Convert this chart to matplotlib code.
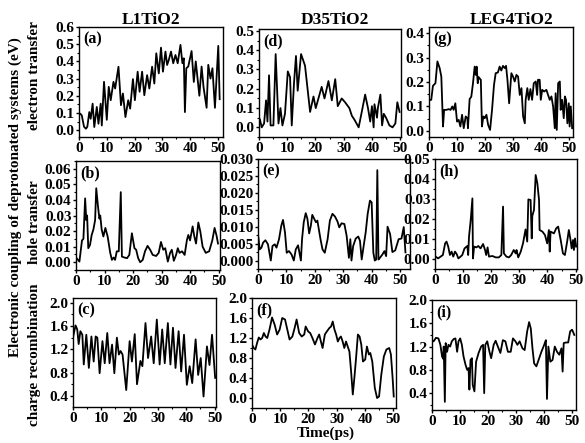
import matplotlib
matplotlib.use("Agg")
import matplotlib.pyplot as plt
from matplotlib.ticker import MultipleLocator, FormatStrFormatter

plt.rcParams['font.family'] = 'serif'
plt.rcParams['font.serif'] = ['Liberation Serif', 'DejaVu Serif']
plt.rcParams['font.weight'] = 'bold'

# ---- data: (time in ps, coupling in eV) ----
# electron transfer
a_pts = [(0.0, 0.09), (0.4, 0.096), (1.0, 0.086), (1.8, 0.02), (2.5, 0.008), (3.0, 0.02), (3.7, 0.105),
         (4.2, 0.066), (4.9, 0.154), (5.5, 0.018), (6.4, 0.135), (7.0, 0.037), (7.8, 0.154), (8.2, 0.027),
         (9.0, 0.281), (10.0, 0.06), (10.7, 0.252), (11.4, 0.174), (12.4, 0.281), (13.0, 0.242), (14.2, 0.369),
         (15.1, 0.145), (15.8, 0.213), (16.7, 0.076), (17.7, 0.174), (18.4, 0.125), (19.4, 0.297), (20.1, 0.174),
         (21.1, 0.34), (21.8, 0.223), (22.7, 0.34), (23.5, 0.203), (24.5, 0.32), (25.3, 0.242), (26.3, 0.369),
         (27.1, 0.271), (27.8, 0.447), (28.7, 0.33), (29.5, 0.48), (30.2, 0.34), (31.1, 0.457), (31.7, 0.379),
         (32.3, 0.408), (33.1, 0.457), (33.9, 0.389), (34.7, 0.437), (35.5, 0.389), (36.5, 0.496), (37.2, 0.389),
         (37.7, 0.418), (38.1, 0.105), (38.6, 0.36), (39.3, 0.37), (40.5, 0.46), (41.3, 0.28), (42.0, 0.40),
         (43.3, 0.20), (44.1, 0.37), (44.8, 0.25), (45.9, 0.13), (46.5, 0.38), (47.3, 0.30), (48.0, 0.36),
         (48.9, 0.13), (50.1, 0.49), (50.6, 0.18)]
d_pts = [(0.0, 0.05), (0.35, 0.04), (0.95, 0.0), (1.8, 0.02), (2.5, 0.14), (3.0, 0.03), (3.55, 0.27),
         (4.1, 0.01), (5.1, 0.01), (5.9, 0.38), (6.9, 0.02), (7.6, 0.10), (8.3, 0.01), (9.2, 0.07), (10.2, 0.29),
         (11.0, 0.26), (11.6, 0.01), (12.4, 0.23), (13.1, 0.37), (13.7, 0.19), (14.9, 0.38), (16.3, 0.32),
         (18.1, 0.08), (19.3, 0.16), (20.1, 0.10), (22.2, 0.21), (23.2, 0.15), (24.6, 0.24), (25.8, 0.14),
         (27.0, 0.25), (27.9, 0.11), (29.3, 0.15), (30.5, 0.13), (32.0, 0.10), (32.9, 0.06), (33.8, 0.04),
         (35.3, 0.0), (36.4, 0.08), (37.6, 0.17), (38.6, 0.10), (39.4, 0.03), (40.0, 0.11), (40.6, 0.0),
         (40.9, 0.12), (41.8, 0.05), (42.1, 0.10), (43.0, 0.17), (43.6, 0.01), (44.2, 0.07), (45.0, 0.05),
         (46.2, 0.01), (47.3, 0.0), (48.3, 0.02), (49.0, 0.13), (49.8, 0.08)]
g_pts = [(0.0, 0.12), (0.2, 0.127), (0.8, 0.127), (1.4, 0.184), (2.3, 0.195), (3.0, 0.284), (3.8, 0.257),
         (4.4, 0.222), (5.0, 0.018), (5.4, 0.086), (6.2, 0.086), (7.0, 0.089), (7.7, 0.086), (8.3, 0.1),
         (8.8, 0.086), (9.4, 0.113), (10.0, 0.038), (10.6, 0.045), (11.2, 0.018), (11.8, 0.066), (12.4, 0.011),
         (13.1, 0.059), (13.7, 0.052), (13.9, 0.011), (14.5, 0.13), (15.1, 0.14), (15.7, 0.195), (16.3, 0.263),
         (16.7, 0.229), (17.0, 0.263), (17.4, 0.195), (17.7, 0.22), (18.5, 0.209), (18.9, 0.018), (19.4, 0.059),
         (19.9, 0.052), (20.5, 0.066), (21.1, 0.025), (21.8, 0.004), (22.5, 0.086), (23.2, 0.188), (23.8, 0.236),
         (24.6, 0.239), (25.2, 0.263), (25.8, 0.247), (26.4, 0.266), (27.0, 0.257), (27.5, 0.266), (28.0, 0.209),
         (28.6, 0.113), (29.4, 0.236), (30.0, 0.222), (30.6, 0.202), (31.2, 0.229), (31.8, 0.222), (32.4, 0.147),
         (33.0, 0.175), (33.6, 0.059), (34.2, 0.031), (34.5, 0.127), (35.1, 0.175), (35.6, 0.127), (36.2, 0.171),
         (36.8, 0.127), (37.4, 0.195), (38.1, 0.202), (38.6, 0.147), (38.9, 0.209), (39.5, 0.209), (39.9, 0.127),
         (40.4, 0.168), (41.1, 0.161), (41.9, 0.168), (42.5, 0.147), (43.1, 0.127), (43.7, 0.141), (44.3, 0.1),
         (44.9, 0.011), (45.2, 0.154), (45.6, 0.004), (46.1, 0.195), (46.7, 0.202), (47.0, 0.086), (47.5, 0.127),
         (48.1, 0.052), (48.5, 0.141), (48.9, 0.127), (49.4, 0.031), (49.9, 0.113), (50.2, 0.018), (50.6, 0.1),
         (51.1, 0.011)]

# hole transfer
b_pts = [(0.0, 0.003), (0.2, 0.0026), (1.2, 0.0004), (2.1, 0.014), (2.6, 0.015), (3.2, 0.041), (3.6, 0.027),
         (3.9, 0.030), (4.3, 0.009), (4.9, 0.011), (5.5, 0.0175), (6.1, 0.021), (6.7, 0.027), (7.1, 0.0475),
         (7.7, 0.036), (8.2, 0.028), (8.5, 0.030), (9.0, 0.021), (9.6, 0.0165), (10.3, 0.022), (11.1, 0.0165),
         (12.0, 0.006), (12.6, 0.0015), (13.2, 0.003), (13.7, 0.0015), (14.3, 0.007), (15.0, 0.007), (15.7, 0.045),
         (16.1, 0.0036), (17.0, 0.003), (17.9, 0.0026), (18.7, 0.0047), (19.6, 0.0186), (20.5, 0.009), (21.1, 0.008),
         (21.8, 0.0026), (22.5, 0.0), (23.4, 0.0015), (24.2, 0.007), (25.1, 0.0105), (26.0, 0.008), (26.9, 0.0047),
         (28.1, 0.004), (29.0, 0.006), (29.8, 0.013), (30.6, 0.008), (31.3, 0.009), (32.2, 0.0004), (33.0, 0.006),
         (33.6, 0.008), (34.3, 0.0009), (35.1, 0.0047), (35.7, 0.009), (36.3, 0.006), (37.2, 0.007), (38.1, 0.0047),
         (38.9, 0.0143), (39.4, 0.0175), (40.0, 0.014), (40.9, 0.023), (41.5, 0.0165), (42.1, 0.012), (42.9, 0.0255),
         (43.6, 0.0197), (44.4, 0.010), (45.5, 0.006), (46.7, 0.007), (47.8, 0.014), (48.6, 0.022), (49.3, 0.017),
         (49.8, 0.012)]
e_pts = [(0.0, 0.0078), (0.6, 0.0033), (1.2, 0.0038), (1.8, 0.0053), (2.6, 0.006), (3.5, 0.0048), (4.5, 0.0),
         (5.1, 0.0043), (5.9, 0.0048), (6.5, 0.0038), (7.4, 0.0063), (8.2, 0.0103), (8.8, 0.012), (9.5, 0.0083),
         (10.1, 0.0023), (10.9, 0.0028), (11.8, 0.0018), (12.6, 0.0), (13.3, 0.0033), (14.1, 0.0045), (15.1, 0.0),
         (15.5, 0.0063), (16.1, 0.0113), (16.8, 0.014), (17.4, 0.0123), (18.0, 0.008), (18.6, 0.0103), (19.1, 0.0135),
         (19.8, 0.0123), (20.4, 0.0113), (20.9, 0.0118), (21.4, 0.0093), (22.0, 0.0063), (22.7, 0.0033),
         (23.5, 0.0023), (24.5, 0.0063), (25.3, 0.0118), (26.2, 0.0138), (27.1, 0.013), (28.0, 0.0115),
         (28.6, 0.0098), (29.4, 0.011), (30.4, 0.0108), (31.2, 0.0073), (32.0, 0.0008), (32.5, 0.0063), (32.9, 0.0),
         (33.5, 0.0043), (34.4, 0.0065), (35.3, 0.0071), (35.9, 0.0058), (36.5, 0.0003), (37.1, 0.0038),
         (37.9, 0.0083), (38.6, 0.0138), (39.4, 0.0177), (40.0, 0.0172), (40.6, 0.0023), (41.1, 0.0), (41.6, 0.0003),
         (42.0, 0.0267), (42.4, 0.0003), (42.9, 0.0008), (43.8, 0.0018), (44.5, 0.0028), (45.1, 0.0013), (45.6, 0.010),
         (46.5, 0.0078), (47.3, 0.0025), (48.3, 0.003), (49.5, 0.0063), (50.5, 0.0065), (51.3, 0.0099), (51.9, 0.0024)]
h_pts = [(0.0, 0.0012), (0.2, 0.0012), (1.1, 0.0003), (2.0, 0.0012), (2.8, 0.002), (3.6, 0.0078), (4.1, 0.0087),
         (4.7, 0.0062), (5.3, 0.002), (5.9, 0.0037), (6.5, 0.0012), (7.1, 0.0037), (7.7, 0.0025), (8.3, 0.0003),
         (9.1, 0.0012), (9.7, 0.002), (10.5, 0.0053), (11.5, 0.0065), (11.8, 0.002), (12.1, 0.0112), (12.7, 0.0195),
         (13.3, 0.0303), (13.5, 0.0003), (13.9, 0.0062), (14.7, 0.0058), (15.4, 0.0065), (16.2, 0.0053),
         (17.1, 0.0075), (17.8, 0.0045), (18.2, 0.002), (18.7, 0.0058), (19.2, 0.0012), (20.4, 0.0015),
         (21.6, 0.0008), (22.7, 0.0008), (23.6, 0.002), (24.2, 0.0262), (24.5, 0.0028), (25.4, 0.0012),
         (26.3, 0.0008), (27.1, 0.002), (28.0, 0.0045), (28.7, 0.0028), (29.0, 0.0045), (29.6, 0.0008),
         (30.5, 0.0037), (31.3, 0.0078), (32.2, 0.0148), (32.8, 0.0087), (33.2, 0.0298), (34.0, 0.0295),
         (34.4, 0.0103), (34.6, 0.0215), (35.2, 0.0245), (35.8, 0.042), (36.4, 0.0378), (37.0, 0.0295),
         (37.2, 0.0145), (38.2, 0.0137), (39.1, 0.012), (39.9, 0.0078), (40.5, 0.0145), (40.8, 0.0037),
         (41.1, 0.0137), (42.3, 0.0128), (43.1, 0.0153), (43.8, 0.0162), (44.7, 0.0095), (45.5, 0.0028),
         (46.2, 0.002), (47.0, 0.0087), (47.6, 0.0145), (48.2, 0.0095), (48.6, 0.0053), (49.1, 0.0095),
         (49.4, 0.0045), (49.8, 0.0103), (50.2, 0.0062)]

# charge recombination
c_pts = [(0.0, 1.40), (0.2, 1.45), (0.9, 1.61), (1.5, 1.54), (2.0, 1.29), (2.6, 1.51), (3.3, 1.45), (3.8, 0.94),
         (4.7, 1.45), (5.6, 0.88), (6.5, 1.42), (7.3, 0.99), (8.0, 1.42), (8.6, 1.40), (9.4, 0.79), (10.4, 1.34),
         (11.2, 0.96), (12.1, 1.48), (12.9, 0.96), (13.8, 1.28), (14.6, 0.79), (15.5, 1.40), (16.2, 1.11),
         (16.8, 1.17), (17.5, 1.11), (18.8, 0.50), (20.0, 1.34), (20.8, 0.99), (21.8, 1.46), (22.6, 0.60),
         (23.8, 1.00), (24.5, 0.91), (25.6, 1.65), (26.5, 1.05), (27.6, 1.42), (28.5, 0.96), (29.6, 1.71),
         (30.6, 0.94), (31.5, 1.54), (32.4, 0.96), (33.5, 1.65), (34.4, 0.94), (35.3, 1.57), (36.2, 0.88),
         (37.3, 1.51), (38.2, 0.82), (39.2, 1.45), (40.2, 0.59), (41.2, 0.91), (42.1, 0.62), (43.3, 1.37),
         (44.2, 0.76), (45.1, 1.05), (46.1, 0.39), (47.3, 1.25), (48.2, 0.93), (49.1, 1.45), (50.2, 0.71)]
f_pts = [(0.0, 1.07), (0.6, 1.0), (1.2, 0.97), (1.8, 1.1), (2.4, 1.21), (3.0, 1.17), (3.6, 1.2), (4.2, 1.3),
         (4.8, 1.23), (5.4, 1.2), (6.2, 1.37), (7.1, 1.61), (8.0, 1.47), (8.9, 1.27), (9.8, 1.37), (10.7, 1.6),
         (11.7, 1.57), (12.5, 1.37), (13.3, 1.17), (14.3, 1.23), (15.1, 1.4), (15.8, 1.57), (16.7, 1.3),
         (17.6, 1.23), (18.5, 1.27), (19.0, 1.43), (19.9, 1.33), (20.6, 1.3), (21.4, 1.2), (22.3, 1.07),
         (23.2, 1.2), (23.8, 1.27), (24.4, 1.13), (25.0, 1.0), (25.8, 1.27), (26.5, 1.33), (27.4, 1.4),
         (28.0, 1.43), (28.6, 1.53), (29.2, 1.37), (29.8, 1.27), (30.4, 1.13), (31.0, 1.2), (31.5, 1.23),
         (32.1, 1.13), (32.7, 1.0), (33.3, 1.13), (33.9, 1.03), (34.5, 0.93), (35.1, 0.53), (35.7, 0.07),
         (36.3, 0.43), (36.9, 0.83), (37.5, 1.27), (38.1, 1.23), (38.7, 1.07), (39.3, 0.73), (40.1, 0.77),
         (40.7, 1.03), (41.4, 0.87), (41.9, 0.9), (42.6, 0.73), (43.5, 0.2), (44.3, 0.0), (45.0, 0.03),
         (45.8, 0.47), (46.7, 0.83), (47.6, 0.97), (48.6, 1.0), (49.2, 0.87), (49.8, 0.4), (50.2, 0.03)]
i_pts = [(0.0, 1.31), (0.6, 1.29), (1.4, 1.35), (2.3, 1.34), (3.0, 1.23), (3.6, 1.03), (4.0, 0.99), (4.2, 1.2),
         (4.6, 0.25), (4.9, 1.26), (5.4, 1.11), (5.9, 1.23), (6.5, 1.2), (7.1, 1.29), (7.8, 1.33), (8.4, 1.34),
         (9.0, 1.11), (9.5, 1.29), (10.1, 1.34), (10.7, 1.23), (11.3, 1.03), (12.0, 0.89), (12.6, 0.8), (13.1, 0.83),
         (13.4, 0.46), (13.8, 0.97), (14.3, 1.0), (14.6, 0.54), (15.2, 0.43), (15.8, 0.94), (16.7, 1.09),
         (17.6, 1.2), (18.3, 1.23), (18.7, 0.4), (19.1, 1.23), (19.8, 1.29), (20.6, 1.11), (21.2, 1.0), (22.1, 1.23),
         (22.8, 1.3), (23.6, 1.2), (24.5, 1.09), (25.4, 1.31), (26.3, 1.29), (27.2, 1.11), (28.2, 1.11),
         (29.0, 1.34), (29.9, 1.29), (30.6, 1.23), (31.4, 1.29), (32.4, 1.17), (33.2, 1.14), (34.1, 1.46),
         (34.8, 1.62), (35.4, 1.51), (36.0, 1.17), (36.6, 0.91), (37.4, 0.86), (38.2, 0.97), (39.2, 1.11),
         (40.2, 1.23), (40.8, 1.31), (41.2, 0.3), (41.7, 1.2), (42.4, 0.94), (43.2, 0.97), (44.0, 1.2),
         (44.8, 1.11), (45.6, 1.06), (46.4, 1.17), (46.8, 0.77), (47.2, 1.26), (48.0, 1.27), (48.8, 1.27),
         (49.5, 1.46), (50.2, 1.49), (51.0, 1.4)]

titles = ["L1TiO2", "D35TiO2", "LEG4TiO2"]
row_labels = ["electron transfer", "hole transfer", "charge recombination"]

W, H = 585, 443
fig = plt.figure(figsize=(W / 100, H / 100), dpi=100)


def px_axes(left, top, right, bottom):
    return fig.add_axes([left / W, 1 - bottom / H, (right - left) / W, (bottom - top) / H])


# name, points, pixel box, xmax, ylim, ytick step, minor step, format
panels = [
    ("(a)", a_pts, (79, 27, 223, 137), 51.8, (-0.04, 0.6), 0.1, 0.05, "%.1f"),
    ("(b)", b_pts, (76, 161, 220, 270), 50.5, (-0.005, 0.065), 0.01, 0.005, "%.2f"),
    ("(c)", c_pts, (73, 298, 216, 407), 50.5, (0.21, 2.08), 0.4, 0.2, "%.1f"),
    ("(d)", d_pts, (259, 29, 401, 137), 50.3, (-0.05, 0.51), 0.1, 0.05, "%.1f"),
    ("(e)", e_pts, (258, 159, 410, 269), 53.5, (-0.0025, 0.030), 0.005, 0.0025, "%.3f"),
    ("(f)", f_pts, (252, 298, 396, 408), 51.0, (-0.2, 2.0), 0.4, 0.2, "%.1f"),
    ("(g)", g_pts, (429, 27, 573, 137), 51.4, (-0.025, 0.425), 0.1, 0.05, "%.1f"),
    ("(h)", h_pts, (435, 159, 577, 269), 50.5, (-0.005, 0.05), 0.01, 0.005, "%.2f"),
    ("(i)", i_pts, (432, 300, 576, 410), 51.6, (0.11, 2.0), 0.4, 0.2, "%.1f"),
]

for tag, pts, box, xmax, ylim, ystep, yminor, fmt in panels:
    ax = px_axes(*box)
    t, v = zip(*pts)
    ax.plot(t, v, color='black', lw=1.3)
    ax.set_xlim(0, xmax)
    ax.set_ylim(*ylim)
    ax.xaxis.set_major_locator(MultipleLocator(10))
    ax.xaxis.set_minor_locator(MultipleLocator(5))
    ax.yaxis.set_major_locator(MultipleLocator(ystep))
    ax.yaxis.set_minor_locator(MultipleLocator(yminor))
    ax.yaxis.set_major_formatter(FormatStrFormatter(fmt))
    ax.tick_params(which='major', direction='out', length=2.5, width=1, labelsize=11, pad=0.8)
    ax.tick_params(which='minor', direction='out', length=1.5, width=0.8)
    for s in ax.spines.values():
        s.set_linewidth(1.0)
    ax.text(0.03, 0.96, tag, transform=ax.transAxes, va='top', ha='left', fontsize=11.5, fontweight='bold')

# column titles
for x, title in zip([151, 335, 512], titles):
    fig.text(x / W, 1 - 24 / H, title, ha='center', va='baseline', fontsize=12.5, fontweight='bold')

# row labels
for y, lab in zip([76, 222, 355], row_labels):
    fig.text(35 / W, 1 - y / H, lab, rotation=90, ha='center', va='center', fontsize=11, fontweight='bold')

fig.text(15 / W, 1 - 197 / H, "Electronic coupling of deprotonated systems (eV)", rotation=90,
         ha='center', va='center', fontsize=11, fontweight='bold')
fig.text(326 / W, 1 - 437 / H, "Time(ps)", ha='center', va='baseline', fontsize=11, fontweight='bold')

fig.savefig("out.png", dpi=100)
